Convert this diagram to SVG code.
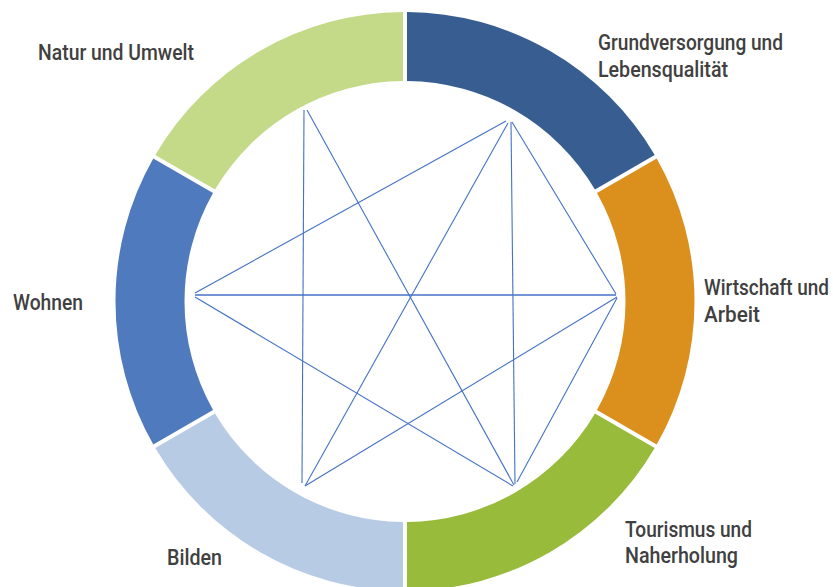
<svg xmlns="http://www.w3.org/2000/svg" xmlns:xlink="http://www.w3.org/1999/xlink" width="833" height="587" viewBox="0 0 833 587">
<style>
.lbl{font-family:Roboto,"Liberation Sans",Arial,sans-serif;font-size:21.5px;font-weight:500;fill:#404040}
.ln{stroke:#4472C4;stroke-width:1.1;fill:none}
</style>
<defs>
<path id="seg" d="M656.72,444.52 A289.5,289.5 0 0 0 656.72,158.48 L596.95,192.98 A220.5,220.5 0 0 1 596.95,410.02 Z"/>
</defs>
<rect width="833" height="587" fill="#fff"/>
<g id="grundversorgung">
<use xlink:href="#seg" href="#seg" transform="rotate(-60 405 301.5)" fill="#375D91"/>
<text class="lbl"><tspan x="598" y="50" textLength="185" lengthAdjust="spacingAndGlyphs">Grundversorgung und</tspan><tspan x="598" y="77" textLength="130" lengthAdjust="spacingAndGlyphs">Lebensqualität</tspan></text>
</g>
<g id="wirtschaft">
<use xlink:href="#seg" href="#seg" fill="#DB8F1D"/>
<text class="lbl"><tspan x="704" y="295" textLength="125" lengthAdjust="spacingAndGlyphs">Wirtschaft und</tspan><tspan x="704" y="322" textLength="56" lengthAdjust="spacingAndGlyphs">Arbeit</tspan></text>
</g>
<g id="tourismus">
<use xlink:href="#seg" href="#seg" transform="rotate(60 405 301.5)" fill="#99BB3B"/>
<text class="lbl"><tspan x="625" y="537" textLength="127" lengthAdjust="spacingAndGlyphs">Tourismus und</tspan><tspan x="625" y="563" textLength="113" lengthAdjust="spacingAndGlyphs">Naherholung</tspan></text>
</g>
<g id="bilden">
<use xlink:href="#seg" href="#seg" transform="rotate(120 405 301.5)" fill="#B8CBE4"/>
<text class="lbl" x="167" y="565" textLength="55" lengthAdjust="spacingAndGlyphs">Bilden</text>
</g>
<g id="wohnen">
<use xlink:href="#seg" href="#seg" transform="rotate(180 405 301.5)" fill="#4F7ABD"/>
<text class="lbl" x="13" y="310" textLength="70" lengthAdjust="spacingAndGlyphs">Wohnen</text>
</g>
<g id="natur">
<use xlink:href="#seg" href="#seg" transform="rotate(-120 405 301.5)" fill="#C4DA88"/>
<text class="lbl" x="38" y="60" textLength="156" lengthAdjust="spacingAndGlyphs">Natur und Umwelt</text>
</g>
<g id="connectors">
<line class="ln" x1="195" y1="295" x2="616" y2="295" style="stroke-width:1.6"/>
<line class="ln" x1="195" y1="293" x2="506" y2="121"/>
<line class="ln" x1="195" y1="297" x2="513" y2="486"/>
<line class="ln" x1="304" y1="110" x2="302" y2="483"/>
<line class="ln" x1="307" y1="110" x2="514" y2="485"/>
<line class="ln" x1="508" y1="123" x2="305" y2="486"/>
<line class="ln" x1="511" y1="122" x2="515" y2="484"/>
<line class="ln" x1="512" y1="122" x2="616" y2="294"/>
<line class="ln" x1="617" y1="297" x2="305" y2="486"/>
<line class="ln" x1="617" y1="298" x2="517" y2="482"/>
</g>
</svg>
